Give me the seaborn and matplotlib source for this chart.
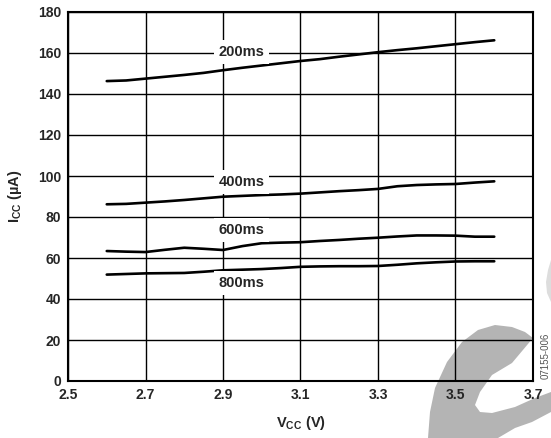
import matplotlib
matplotlib.use("Agg")
import matplotlib.pyplot as plt
import matplotlib.patches as mpatches
import seaborn as sns
import pandas as pd

sns.set_style("white")
plt.rcParams['font.family'] = ['Liberation Sans', 'DejaVu Sans']
plt.rcParams['font.weight'] = 'bold'
plt.rcParams['mathtext.fontset'] = 'custom'
plt.rcParams['mathtext.rm'] = 'Liberation Sans:bold'
plt.rcParams['mathtext.bf'] = 'Liberation Sans:bold'

# Data
vcc = [2.60, 2.65, 2.70, 2.75, 2.80, 2.85, 2.90, 2.95, 3.00, 3.05, 3.10,
       3.15, 3.20, 3.25, 3.30, 3.35, 3.40, 3.45, 3.50, 3.55, 3.60]
icc_200ms = [146.3, 146.6, 147.5, 148.4, 149.3, 150.3, 151.6, 152.8, 153.9, 155.0, 156.1,
             157.0, 158.2, 159.3, 160.4, 161.4, 162.3, 163.3, 164.3, 165.3, 166.2]
icc_400ms = [86.2, 86.4, 87.0, 87.6, 88.3, 89.1, 89.9, 90.3, 90.7, 91.0, 91.4,
             92.0, 92.6, 93.1, 93.7, 95.0, 95.6, 95.9, 96.1, 96.8, 97.4]
icc_600ms = [63.4, 63.1, 62.9, 64.0, 65.0, 64.5, 63.9, 65.8, 67.2, 67.5, 67.7,
             68.3, 68.8, 69.4, 69.9, 70.5, 71.0, 71.0, 70.9, 70.4, 70.4]
icc_800ms = [51.9, 52.2, 52.5, 52.6, 52.7, 53.3, 54.0, 54.3, 54.6, 55.1, 55.7,
             55.9, 56.0, 56.0, 56.1, 56.7, 57.4, 57.9, 58.3, 58.4, 58.4]
series_names = ['200ms', '400ms', '600ms', '800ms']
x_ticks = [2.5, 2.7, 2.9, 3.1, 3.3, 3.5, 3.7]
y_ticks = [0, 20, 40, 60, 80, 100, 120, 140, 160, 180]

frames = []
for name, vals in zip(series_names, [icc_200ms, icc_400ms, icc_600ms, icc_800ms]):
    frames.append(pd.DataFrame({'vcc': vcc, 'icc': vals, 'delay': name}))
df = pd.concat(frames, ignore_index=True)

fig = plt.figure(figsize=(5.51, 4.38), dpi=100)
ax = fig.add_axes([68/551, 57/438, 465/551, 369/438])
ax.patch.set_alpha(0)

sns.lineplot(data=df, x='vcc', y='icc', hue='delay', palette=['black']*4,
             linewidth=1.9, legend=False, ax=ax, zorder=3)

ax.set_xlim(2.5, 3.7)
ax.set_ylim(0, 180)
ax.set_xticks(x_ticks)
ax.set_yticks(y_ticks)
ax.set_xticklabels(['{:.1f}'.format(v) for v in x_ticks])
ax.grid(True, color='black', linewidth=1.0)
ax.set_axisbelow(True)
for s in ax.spines.values():
    s.set_color('black')
    s.set_linewidth(1.5)
ax.tick_params(length=0, labelsize=10)
ax.tick_params(axis='x', pad=5)
ax.tick_params(axis='y', pad=5)
for lab in ax.get_xticklabels() + ax.get_yticklabels():
    lab.set_fontweight('bold')

ax.set_xlabel(r'V$_{\rm CC}$ (V)', fontsize=10.5, fontweight='bold', labelpad=9)
ax.set_ylabel(r'I$_{\rm CC}$ (µA)', fontsize=10.5, fontweight='bold', labelpad=10)

# curve labels
label_pos = {'200ms': 160.6, '400ms': 97.2, '600ms': 73.7, '800ms': 47.7}
for name in series_names:
    ax.text(2.948, label_pos[name], name, ha='center', va='center', fontsize=10.5,
            fontweight='bold', zorder=4,
            bbox=dict(facecolor='white', edgecolor='none', pad=3.5))

# watermark logo fragment, drawn behind the axes
def to_fig(points):
    return [(x/551, 1 - y/438) for x, y in points]

c_pts = [(428, 438), (430, 412), (435, 388), (447, 362), (462, 342), (478, 330),
         (495, 325), (512, 327), (525, 332), (533, 338), (512, 363), (492, 375),
         (480, 392), (475, 405), (480, 412), (492, 413), (515, 407), (535, 398),
         (551, 392), (551, 412), (532, 422), (515, 428), (498, 438)]
fig.patches.append(mpatches.Polygon(to_fig(c_pts), closed=True, transform=fig.transFigure,
                                    facecolor='#b4b4b4', edgecolor='none', zorder=-1))
arc_pts = [(551, 260), (548, 270), (546, 282), (547, 293), (551, 302)]
fig.patches.append(mpatches.Polygon(to_fig(arc_pts), closed=True, transform=fig.transFigure,
                                    facecolor='#dddddd', edgecolor='none', zorder=-1))
fig.text(546/551, 1 - 356/438, '07155-006', rotation=90, ha='center', va='center',
         fontsize=7, fontweight='normal', color='#555555')

fig.savefig('out.png', dpi=100)
